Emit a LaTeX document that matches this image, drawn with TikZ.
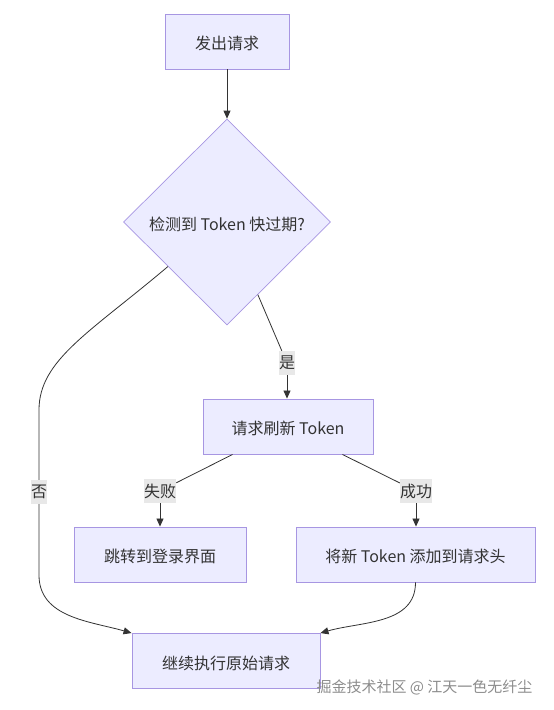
\documentclass[tikz,border=0pt]{standalone}
\usepackage{fontspec}
\newfontfamily\cjk{Noto Sans CJK SC}
\usetikzlibrary{arrows.meta,positioning,shapes.geometric}
\definecolor{boxfill}{HTML}{ECECFF}
\definecolor{boxline}{HTML}{A796E2}
\definecolor{ink}{HTML}{333333}
\definecolor{lblfill}{HTML}{E8E8E8}
\definecolor{markgray}{HTML}{8C8C8C}
\tikzset{
  stepbox/.style={rectangle, draw=boxline, fill=boxfill, line width=0.9pt, minimum height=55pt, inner sep=0pt, text=ink, text height=16pt, text depth=0pt, font=\cjk\fontsize{16}{19}\selectfont},
  checkbox/.style={diamond, draw=boxline, fill=boxfill, line width=0.7pt, minimum width=207pt, minimum height=206pt, inner sep=0pt, text=ink, text height=16pt, text depth=0pt, font=\cjk\fontsize{16}{19}\selectfont},
  edgelbl/.style={fill=lblfill, inner xsep=0pt, inner ysep=0pt, minimum height=24pt, text=ink, font=\cjk\fontsize{16}{19}\selectfont},
  link/.style={draw=ink, line width=0.8pt},
  arr/.style={link, -{Triangle[length=8pt,width=7pt]}}
}
\begin{document}
\begin{tikzpicture}[x=1pt, y=1pt]
  \useasboundingbox (0,0) rectangle (554,-710);
  \node (send) [stepbox, minimum width=124pt] at (227,-41.5) {发出请求};
  \node (check) [checkbox] at (227,-222) {检测到 Token 快过期?};
  \node (refresh) [stepbox, minimum width=170pt] at (288,-426.5) {请求刷新 Token};
  \node (login) [stepbox, minimum width=172pt] at (160,-554.5) {跳转到登录界面};
  \node (addtok) [stepbox, minimum width=239pt] at (415.5,-554.5) {将新 Token 添加到请求头};
  \node (resume) [stepbox, minimum width=188pt] at (226,-661) {继续执行原始请求};

  \node (yesL) [edgelbl] at (287,-363) {是};
  \node (noL) [edgelbl] at (39,-492) {否};
  \node (failL) [edgelbl] at (160,-491) {失败};
  \node (okL) [edgelbl] at (416,-491) {成功};
  \coordinate (noBend) at (39,-410);
  \coordinate (noTurn) at (39,-575);

  \draw [arr] (send) -- (check);
  \draw [link] (check.293) -- (yesL);
  \draw [arr] (yesL) -- (yesL |- refresh.north);
  \draw [link] ([xshift=30pt]refresh.south west) -- (failL);
  \draw [arr] (failL) -- (login);
  \draw [link] ([xshift=-31pt]refresh.south east) -- (okL);
  \draw [arr] (okL) -- (okL |- addtok.north);
  \draw [link] (check.217) .. controls +(-78,-66) and +(0,50) .. (noBend) -- (noL);
  \draw [arr] (noL) -- (noTurn) to[out=-90, in=164] (resume.north west);
  \draw [arr] (addtok.south) to[out=-90, in=16] (resume.north east);

  \node (mark) [anchor=east, text=markgray, font=\cjk\fontsize{15}{18}\selectfont] at (536,-687) {掘金技术社区 @ 江天一色无纤尘};
\end{tikzpicture}
\end{document}
